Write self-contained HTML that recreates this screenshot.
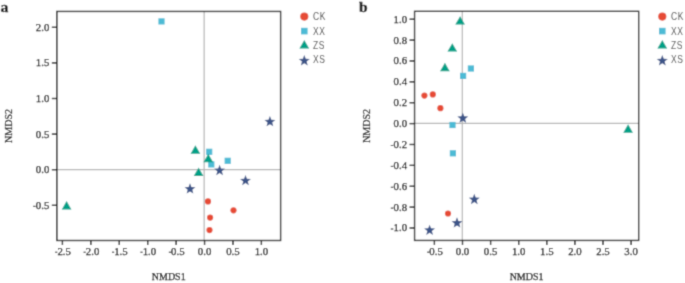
<!DOCTYPE html>
<html><head><meta charset="utf-8"><style>
html,body{margin:0;padding:0;background:#fff;}
body{width:685px;height:283px;overflow:hidden;}
svg{display:block;}
</style></head><body>
<svg width="685" height="283" viewBox="0 0 685 283">
<defs><filter id="bl" x="0" y="0" width="685" height="283" filterUnits="userSpaceOnUse"><feConvolveMatrix order="3" kernelMatrix="1 4 1 4 16 4 1 4 1" divisor="36" edgeMode="duplicate"/></filter></defs>
<rect width="685" height="283" fill="#fff"/>
<g filter="url(#bl)"><rect width="685" height="283" fill="#fff"/>
<line x1="204.15" y1="11.45" x2="204.15" y2="240.50" stroke="#b4b4b4" stroke-width="1.2"/>
<line x1="56.85" y1="169.60" x2="280.60" y2="169.60" stroke="#b4b4b4" stroke-width="1.2"/>
<rect x="56.85" y="11.45" width="223.75" height="229.05" fill="none" stroke="#000" stroke-width="1.35"/>
<line x1="62.43" y1="240.50" x2="62.43" y2="245.00" stroke="#000" stroke-width="1.35"/>
<text x="64.13" y="254.70" font-family="Liberation Serif, serif" font-size="10.8" text-anchor="middle" fill="#000" stroke="#000" stroke-width="0.25" >2.5</text>
<rect x="55.13" y="251.72" width="2.20" height="0.95" fill="#000"/>
<line x1="90.85" y1="240.50" x2="90.85" y2="245.00" stroke="#000" stroke-width="1.35"/>
<text x="92.55" y="254.70" font-family="Liberation Serif, serif" font-size="10.8" text-anchor="middle" fill="#000" stroke="#000" stroke-width="0.25" >2.0</text>
<rect x="83.55" y="251.72" width="2.20" height="0.95" fill="#000"/>
<line x1="119.28" y1="240.50" x2="119.28" y2="245.00" stroke="#000" stroke-width="1.35"/>
<text x="120.98" y="254.70" font-family="Liberation Serif, serif" font-size="10.8" text-anchor="middle" fill="#000" stroke="#000" stroke-width="0.25" >1.5</text>
<rect x="111.98" y="251.72" width="2.20" height="0.95" fill="#000"/>
<line x1="147.70" y1="240.50" x2="147.70" y2="245.00" stroke="#000" stroke-width="1.35"/>
<text x="149.40" y="254.70" font-family="Liberation Serif, serif" font-size="10.8" text-anchor="middle" fill="#000" stroke="#000" stroke-width="0.25" >1.0</text>
<rect x="140.40" y="251.72" width="2.20" height="0.95" fill="#000"/>
<line x1="176.12" y1="240.50" x2="176.12" y2="245.00" stroke="#000" stroke-width="1.35"/>
<text x="177.82" y="254.70" font-family="Liberation Serif, serif" font-size="10.8" text-anchor="middle" fill="#000" stroke="#000" stroke-width="0.25" >0.5</text>
<rect x="168.82" y="251.72" width="2.20" height="0.95" fill="#000"/>
<line x1="204.55" y1="240.50" x2="204.55" y2="245.00" stroke="#000" stroke-width="1.35"/>
<text x="204.55" y="254.70" font-family="Liberation Serif, serif" font-size="10.8" text-anchor="middle" fill="#000" stroke="#000" stroke-width="0.25" >0.0</text>
<line x1="232.98" y1="240.50" x2="232.98" y2="245.00" stroke="#000" stroke-width="1.35"/>
<text x="232.98" y="254.70" font-family="Liberation Serif, serif" font-size="10.8" text-anchor="middle" fill="#000" stroke="#000" stroke-width="0.25" >0.5</text>
<line x1="261.40" y1="240.50" x2="261.40" y2="245.00" stroke="#000" stroke-width="1.35"/>
<text x="261.40" y="254.70" font-family="Liberation Serif, serif" font-size="10.8" text-anchor="middle" fill="#000" stroke="#000" stroke-width="0.25" >1.0</text>
<line x1="51.85" y1="27.30" x2="56.85" y2="27.30" stroke="#000" stroke-width="1.35"/>
<text x="49.35" y="30.75" font-family="Liberation Serif, serif" font-size="10.8" text-anchor="end" fill="#000" stroke="#000" stroke-width="0.25" >2.0</text>
<line x1="51.85" y1="62.90" x2="56.85" y2="62.90" stroke="#000" stroke-width="1.35"/>
<text x="49.35" y="66.35" font-family="Liberation Serif, serif" font-size="10.8" text-anchor="end" fill="#000" stroke="#000" stroke-width="0.25" >1.5</text>
<line x1="51.85" y1="98.50" x2="56.85" y2="98.50" stroke="#000" stroke-width="1.35"/>
<text x="49.35" y="101.95" font-family="Liberation Serif, serif" font-size="10.8" text-anchor="end" fill="#000" stroke="#000" stroke-width="0.25" >1.0</text>
<line x1="51.85" y1="134.10" x2="56.85" y2="134.10" stroke="#000" stroke-width="1.35"/>
<text x="49.35" y="137.55" font-family="Liberation Serif, serif" font-size="10.8" text-anchor="end" fill="#000" stroke="#000" stroke-width="0.25" >0.5</text>
<line x1="51.85" y1="169.70" x2="56.85" y2="169.70" stroke="#000" stroke-width="1.35"/>
<text x="49.35" y="173.15" font-family="Liberation Serif, serif" font-size="10.8" text-anchor="end" fill="#000" stroke="#000" stroke-width="0.25" >0.0</text>
<line x1="51.85" y1="205.30" x2="56.85" y2="205.30" stroke="#000" stroke-width="1.35"/>
<text x="49.35" y="208.75" font-family="Liberation Serif, serif" font-size="10.8" text-anchor="end" fill="#000" stroke="#000" stroke-width="0.25" >0.5</text>
<rect x="33.10" y="205.82" width="2.50" height="0.95" fill="#000"/>
<circle cx="208.00" cy="201.40" r="3.1" fill="#E64B35"/>
<circle cx="233.50" cy="210.30" r="3.1" fill="#E64B35"/>
<circle cx="210.10" cy="217.60" r="3.1" fill="#E64B35"/>
<circle cx="209.50" cy="230.10" r="3.1" fill="#E64B35"/>
<rect x="158.40" y="18.30" width="6.2" height="6.2" fill="#4DBBD5"/>
<rect x="206.10" y="148.70" width="6.2" height="6.2" fill="#4DBBD5"/>
<rect x="224.60" y="157.70" width="6.2" height="6.2" fill="#4DBBD5"/>
<rect x="208.20" y="161.30" width="6.2" height="6.2" fill="#4DBBD5"/>
<polygon points="195.40,145.28 190.55,153.72 200.25,153.72" fill="#00A087"/>
<polygon points="208.30,153.78 203.45,162.22 213.15,162.22" fill="#00A087"/>
<polygon points="198.60,167.58 193.75,176.02 203.45,176.02" fill="#00A087"/>
<polygon points="66.60,200.98 61.75,209.42 71.45,209.42" fill="#00A087"/>
<polygon points="269.90,116.04 271.34,119.76 275.32,119.98 272.23,122.50 273.25,126.36 269.90,124.20 266.55,126.36 267.57,122.50 264.48,119.98 268.46,119.76" fill="#3C5488"/>
<polygon points="219.60,164.84 221.04,168.56 225.02,168.78 221.93,171.30 222.95,175.16 219.60,173.00 216.25,175.16 217.27,171.30 214.18,168.78 218.16,168.56" fill="#3C5488"/>
<polygon points="245.50,174.94 246.94,178.66 250.92,178.88 247.83,181.40 248.85,185.26 245.50,183.10 242.15,185.26 243.17,181.40 240.08,178.88 244.06,178.66" fill="#3C5488"/>
<polygon points="190.00,183.24 191.44,186.96 195.42,187.18 192.33,189.70 193.35,193.56 190.00,191.40 186.65,193.56 187.67,189.70 184.58,187.18 188.56,186.96" fill="#3C5488"/>
<text x="168.73" y="280.20" font-family="Liberation Serif, serif" font-size="10" text-anchor="middle" fill="#000" stroke="#000" stroke-width="0.25" >NMDS1</text>
<text x="0" y="0" transform="translate(12.2,125.97) rotate(-90)" font-family="Liberation Serif, serif" font-size="10" text-anchor="middle" fill="#000" stroke="#000" stroke-width="0.25">NMDS2</text>
<circle cx="304.30" cy="16.60" r="4.1" fill="#E64B35"/>
<rect x="301.00" y="27.80" width="6.6" height="6.6" fill="#4DBBD5"/>
<polygon points="304.30,39.94 299.40,48.46 309.20,48.46" fill="#00A087"/>
<polygon points="304.30,55.05 305.77,58.84 309.82,59.06 306.67,61.62 307.71,65.55 304.30,63.35 300.89,65.55 301.93,61.62 298.78,59.06 302.83,58.84" fill="#3C5488"/>
<text transform="translate(312.90,20.05) scale(0.85,1)" font-family="Liberation Sans, sans-serif" font-size="10" letter-spacing="0.9" fill="#484848">CK</text>
<text transform="translate(312.90,34.65) scale(0.85,1)" font-family="Liberation Sans, sans-serif" font-size="10" letter-spacing="0.9" fill="#484848">XX</text>
<text transform="translate(312.90,48.65) scale(0.85,1)" font-family="Liberation Sans, sans-serif" font-size="10" letter-spacing="0.9" fill="#484848">ZS</text>
<text transform="translate(312.90,62.95) scale(0.85,1)" font-family="Liberation Sans, sans-serif" font-size="10" letter-spacing="0.9" fill="#484848">XS</text>
<text x="0.40" y="12.30" font-family="Liberation Serif, serif" font-size="15.6" text-anchor="start" fill="#000" stroke="#000" stroke-width="0.35" font-weight="bold">a</text>
<line x1="462.30" y1="11.35" x2="462.30" y2="240.45" stroke="#b4b4b4" stroke-width="1.2"/>
<line x1="414.55" y1="123.40" x2="638.65" y2="123.40" stroke="#b4b4b4" stroke-width="1.2"/>
<rect x="414.55" y="11.35" width="224.10" height="229.10" fill="none" stroke="#000" stroke-width="1.35"/>
<line x1="434.40" y1="240.45" x2="434.40" y2="244.95" stroke="#000" stroke-width="1.35"/>
<text x="436.10" y="254.65" font-family="Liberation Serif, serif" font-size="10.8" text-anchor="middle" fill="#000" stroke="#000" stroke-width="0.25" >0.5</text>
<rect x="427.10" y="251.67" width="2.20" height="0.95" fill="#000"/>
<line x1="462.50" y1="240.45" x2="462.50" y2="244.95" stroke="#000" stroke-width="1.35"/>
<text x="462.50" y="254.65" font-family="Liberation Serif, serif" font-size="10.8" text-anchor="middle" fill="#000" stroke="#000" stroke-width="0.25" >0.0</text>
<line x1="490.60" y1="240.45" x2="490.60" y2="244.95" stroke="#000" stroke-width="1.35"/>
<text x="490.60" y="254.65" font-family="Liberation Serif, serif" font-size="10.8" text-anchor="middle" fill="#000" stroke="#000" stroke-width="0.25" >0.5</text>
<line x1="518.70" y1="240.45" x2="518.70" y2="244.95" stroke="#000" stroke-width="1.35"/>
<text x="518.70" y="254.65" font-family="Liberation Serif, serif" font-size="10.8" text-anchor="middle" fill="#000" stroke="#000" stroke-width="0.25" >1.0</text>
<line x1="546.80" y1="240.45" x2="546.80" y2="244.95" stroke="#000" stroke-width="1.35"/>
<text x="546.80" y="254.65" font-family="Liberation Serif, serif" font-size="10.8" text-anchor="middle" fill="#000" stroke="#000" stroke-width="0.25" >1.5</text>
<line x1="574.90" y1="240.45" x2="574.90" y2="244.95" stroke="#000" stroke-width="1.35"/>
<text x="574.90" y="254.65" font-family="Liberation Serif, serif" font-size="10.8" text-anchor="middle" fill="#000" stroke="#000" stroke-width="0.25" >2.0</text>
<line x1="603.00" y1="240.45" x2="603.00" y2="244.95" stroke="#000" stroke-width="1.35"/>
<text x="603.00" y="254.65" font-family="Liberation Serif, serif" font-size="10.8" text-anchor="middle" fill="#000" stroke="#000" stroke-width="0.25" >2.5</text>
<line x1="631.10" y1="240.45" x2="631.10" y2="244.95" stroke="#000" stroke-width="1.35"/>
<text x="631.10" y="254.65" font-family="Liberation Serif, serif" font-size="10.8" text-anchor="middle" fill="#000" stroke="#000" stroke-width="0.25" >3.0</text>
<line x1="409.55" y1="19.20" x2="414.55" y2="19.20" stroke="#000" stroke-width="1.35"/>
<text x="407.05" y="22.65" font-family="Liberation Serif, serif" font-size="10.8" text-anchor="end" fill="#000" stroke="#000" stroke-width="0.25" >1.0</text>
<line x1="409.55" y1="40.08" x2="414.55" y2="40.08" stroke="#000" stroke-width="1.35"/>
<text x="407.05" y="43.53" font-family="Liberation Serif, serif" font-size="10.8" text-anchor="end" fill="#000" stroke="#000" stroke-width="0.25" >0.8</text>
<line x1="409.55" y1="60.96" x2="414.55" y2="60.96" stroke="#000" stroke-width="1.35"/>
<text x="407.05" y="64.41" font-family="Liberation Serif, serif" font-size="10.8" text-anchor="end" fill="#000" stroke="#000" stroke-width="0.25" >0.6</text>
<line x1="409.55" y1="81.84" x2="414.55" y2="81.84" stroke="#000" stroke-width="1.35"/>
<text x="407.05" y="85.29" font-family="Liberation Serif, serif" font-size="10.8" text-anchor="end" fill="#000" stroke="#000" stroke-width="0.25" >0.4</text>
<line x1="409.55" y1="102.72" x2="414.55" y2="102.72" stroke="#000" stroke-width="1.35"/>
<text x="407.05" y="106.17" font-family="Liberation Serif, serif" font-size="10.8" text-anchor="end" fill="#000" stroke="#000" stroke-width="0.25" >0.2</text>
<line x1="409.55" y1="123.60" x2="414.55" y2="123.60" stroke="#000" stroke-width="1.35"/>
<text x="407.05" y="127.05" font-family="Liberation Serif, serif" font-size="10.8" text-anchor="end" fill="#000" stroke="#000" stroke-width="0.25" >0.0</text>
<line x1="409.55" y1="144.48" x2="414.55" y2="144.48" stroke="#000" stroke-width="1.35"/>
<text x="407.05" y="147.93" font-family="Liberation Serif, serif" font-size="10.8" text-anchor="end" fill="#000" stroke="#000" stroke-width="0.25" >0.2</text>
<rect x="390.80" y="145.00" width="2.50" height="0.95" fill="#000"/>
<line x1="409.55" y1="165.36" x2="414.55" y2="165.36" stroke="#000" stroke-width="1.35"/>
<text x="407.05" y="168.81" font-family="Liberation Serif, serif" font-size="10.8" text-anchor="end" fill="#000" stroke="#000" stroke-width="0.25" >0.4</text>
<rect x="390.80" y="165.89" width="2.50" height="0.95" fill="#000"/>
<line x1="409.55" y1="186.24" x2="414.55" y2="186.24" stroke="#000" stroke-width="1.35"/>
<text x="407.05" y="189.69" font-family="Liberation Serif, serif" font-size="10.8" text-anchor="end" fill="#000" stroke="#000" stroke-width="0.25" >0.6</text>
<rect x="390.80" y="186.77" width="2.50" height="0.95" fill="#000"/>
<line x1="409.55" y1="207.12" x2="414.55" y2="207.12" stroke="#000" stroke-width="1.35"/>
<text x="407.05" y="210.57" font-family="Liberation Serif, serif" font-size="10.8" text-anchor="end" fill="#000" stroke="#000" stroke-width="0.25" >0.8</text>
<rect x="390.80" y="207.65" width="2.50" height="0.95" fill="#000"/>
<line x1="409.55" y1="228.00" x2="414.55" y2="228.00" stroke="#000" stroke-width="1.35"/>
<text x="407.05" y="231.45" font-family="Liberation Serif, serif" font-size="10.8" text-anchor="end" fill="#000" stroke="#000" stroke-width="0.25" >1.0</text>
<rect x="390.80" y="228.53" width="2.50" height="0.95" fill="#000"/>
<circle cx="424.40" cy="95.60" r="3.1" fill="#E64B35"/>
<circle cx="432.80" cy="94.40" r="3.1" fill="#E64B35"/>
<circle cx="440.40" cy="108.20" r="3.1" fill="#E64B35"/>
<circle cx="448.00" cy="213.50" r="3.1" fill="#E64B35"/>
<rect x="467.80" y="65.40" width="6.2" height="6.2" fill="#4DBBD5"/>
<rect x="460.00" y="72.80" width="6.2" height="6.2" fill="#4DBBD5"/>
<rect x="449.40" y="121.90" width="6.2" height="6.2" fill="#4DBBD5"/>
<rect x="449.80" y="150.20" width="6.2" height="6.2" fill="#4DBBD5"/>
<polygon points="460.10,16.18 455.25,24.62 464.95,24.62" fill="#00A087"/>
<polygon points="452.30,43.18 447.45,51.62 457.15,51.62" fill="#00A087"/>
<polygon points="444.90,62.78 440.05,71.22 449.75,71.22" fill="#00A087"/>
<polygon points="628.10,124.28 623.25,132.72 632.95,132.72" fill="#00A087"/>
<polygon points="462.80,112.54 464.24,116.26 468.22,116.48 465.13,119.00 466.15,122.86 462.80,120.70 459.45,122.86 460.47,119.00 457.38,116.48 461.36,116.26" fill="#3C5488"/>
<polygon points="474.30,193.84 475.74,197.56 479.72,197.78 476.63,200.30 477.65,204.16 474.30,202.00 470.95,204.16 471.97,200.30 468.88,197.78 472.86,197.56" fill="#3C5488"/>
<polygon points="457.00,217.24 458.44,220.96 462.42,221.18 459.33,223.70 460.35,227.56 457.00,225.40 453.65,227.56 454.67,223.70 451.58,221.18 455.56,220.96" fill="#3C5488"/>
<polygon points="429.60,224.64 431.04,228.36 435.02,228.58 431.93,231.10 432.95,234.96 429.60,232.80 426.25,234.96 427.27,231.10 424.18,228.58 428.16,228.36" fill="#3C5488"/>
<text x="526.60" y="280.20" font-family="Liberation Serif, serif" font-size="10" text-anchor="middle" fill="#000" stroke="#000" stroke-width="0.25" >NMDS1</text>
<text x="0" y="0" transform="translate(370.1,125.90) rotate(-90)" font-family="Liberation Serif, serif" font-size="10" text-anchor="middle" fill="#000" stroke="#000" stroke-width="0.25">NMDS2</text>
<circle cx="662.30" cy="16.60" r="4.1" fill="#E64B35"/>
<rect x="659.00" y="27.80" width="6.6" height="6.6" fill="#4DBBD5"/>
<polygon points="662.30,39.94 657.40,48.46 667.20,48.46" fill="#00A087"/>
<polygon points="662.30,55.05 663.77,58.84 667.82,59.06 664.67,61.62 665.71,65.55 662.30,63.35 658.89,65.55 659.93,61.62 656.78,59.06 660.83,58.84" fill="#3C5488"/>
<text transform="translate(670.90,20.05) scale(0.85,1)" font-family="Liberation Sans, sans-serif" font-size="10" letter-spacing="0.9" fill="#484848">CK</text>
<text transform="translate(670.90,34.65) scale(0.85,1)" font-family="Liberation Sans, sans-serif" font-size="10" letter-spacing="0.9" fill="#484848">XX</text>
<text transform="translate(670.90,48.65) scale(0.85,1)" font-family="Liberation Sans, sans-serif" font-size="10" letter-spacing="0.9" fill="#484848">ZS</text>
<text transform="translate(670.90,62.95) scale(0.85,1)" font-family="Liberation Sans, sans-serif" font-size="10" letter-spacing="0.9" fill="#484848">XS</text>
<text x="358.90" y="12.00" font-family="Liberation Serif, serif" font-size="15.6" text-anchor="start" fill="#000" stroke="#000" stroke-width="0.35" font-weight="bold">b</text>
</g>
</svg>
</body></html>
